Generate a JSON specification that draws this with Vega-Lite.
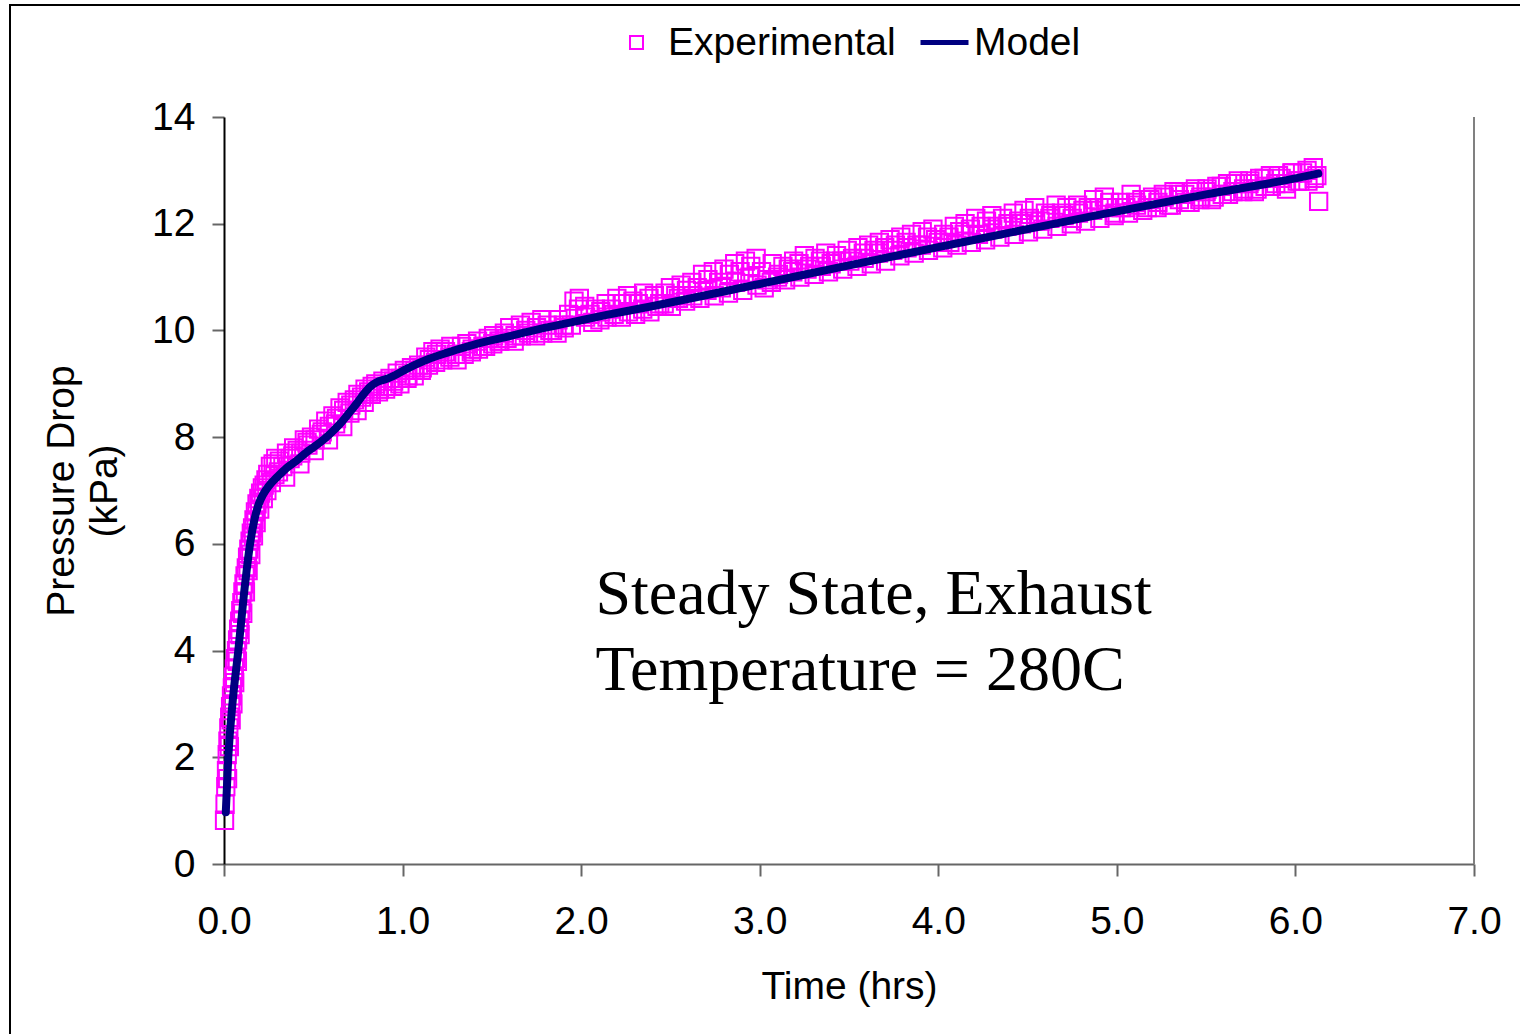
{
  "$schema": "https://vega.github.io/schema/vega-lite/v6.json",
  "autosize": {"type": "none"},
  "padding": {"left": 10, "top": 5, "right": 0, "bottom": 0},
  "width": 1530,
  "height": 1050,
  "background": "white",
  "config": {
    "view": {"stroke": "black", "strokeWidth": 2},
    "font": "Liberation Sans",
    "axis": {"grid": false, "labelFont": "Liberation Sans", "titleFont": "Liberation Sans"},
    "legend": {"labelFont": "Liberation Sans", "labelFontSize": 39, "labelColor": "black", "labelLimit": 0, "padding": 0, "title": null}
  },
  "resolve": {"scale": {"color": "independent"}},
  "datasets": {
    "exp": [
      {"t":0.003,"p":0.82},{"t":0.006,"p":1.12},{"t":0.01,"p":1.45},{"t":0.014,"p":1.75},{"t":0.018,"p":2.05},
      {"t":0.022,"p":2.3},{"t":0.027,"p":2.55},{"t":0.032,"p":2.75},{"t":0.037,"p":2.95},{"t":0.042,"p":3.15},
      {"t":0.047,"p":3.3},{"t":0.053,"p":3.5},{"t":0.058,"p":3.65},{"t":0.064,"p":3.85},{"t":0.07,"p":4.0},
      {"t":0.076,"p":4.2},{"t":0.082,"p":4.4},{"t":0.088,"p":4.55},{"t":0.094,"p":4.75},{"t":0.1,"p":4.9},
      {"t":0.106,"p":5.1},{"t":0.112,"p":5.25},{"t":0.118,"p":5.4},{"t":0.125,"p":5.55},{"t":0.132,"p":5.75},
      {"t":0.139,"p":5.9},{"t":0.146,"p":6.05},{"t":0.153,"p":6.2},{"t":0.16,"p":6.3},{"t":0.168,"p":6.45},
      {"t":0.176,"p":6.6},{"t":0.185,"p":6.75},{"t":0.195,"p":6.85},{"t":0.205,"p":6.95},{"t":0.215,"p":7.05},
      {"t":0.225,"p":7.1},{"t":0.235,"p":7.2},{"t":0.245,"p":7.3},{"t":0.26,"p":7.45},{"t":0.275,"p":7.5},
      {"t":0.02,"p":1.6},{"t":0.03,"p":2.2},{"t":0.04,"p":2.7},{"t":0.05,"p":3.0},{"t":0.06,"p":3.4},
      {"t":0.075,"p":3.8},{"t":0.09,"p":4.3},{"t":0.105,"p":4.7},{"t":0.12,"p":5.1},{"t":0.135,"p":5.5},
      {"t":0.15,"p":5.8},{"t":0.165,"p":6.15},{"t":0.18,"p":6.4},{"t":0.2,"p":6.65},{"t":0.22,"p":6.85},
      {"t":0.24,"p":7.0},{"t":0.265,"p":7.15},{"t":0.285,"p":7.3},
      {"t":0.29,"p":7.6},{"t":0.31,"p":7.55},{"t":0.33,"p":7.45},{"t":0.35,"p":7.7},{"t":0.37,"p":7.6},
      {"t":0.39,"p":7.8},{"t":0.41,"p":7.75},{"t":0.43,"p":7.7},{"t":0.45,"p":7.95},{"t":0.47,"p":7.85},
      {"t":0.49,"p":8.0},{"t":0.51,"p":7.95},{"t":0.53,"p":8.15},{"t":0.55,"p":8.1},{"t":0.57,"p":8.3},
      {"t":0.59,"p":8.2},{"t":0.61,"p":8.4},{"t":0.63,"p":8.35},{"t":0.65,"p":8.55},{"t":0.67,"p":8.5},
      {"t":0.69,"p":8.65},{"t":0.71,"p":8.6},{"t":0.73,"p":8.7},{"t":0.75,"p":8.8},{"t":0.77,"p":8.75},
      {"t":0.79,"p":8.9},{"t":0.81,"p":8.85},{"t":0.83,"p":8.95},{"t":0.85,"p":9.0},{"t":0.87,"p":8.9},
      {"t":0.89,"p":9.05},{"t":0.91,"p":8.95},{"t":0.93,"p":9.1},{"t":0.95,"p":9.05},{"t":0.97,"p":9.2},
      {"t":0.99,"p":9.1},{"t":1.01,"p":9.25},{"t":1.03,"p":9.15},{"t":1.05,"p":9.3},{"t":1.07,"p":9.25},
      {"t":1.09,"p":9.35},{"t":1.11,"p":9.3},{"t":1.13,"p":9.5},{"t":1.15,"p":9.45},{"t":1.17,"p":9.6},
      {"t":1.19,"p":9.55},{"t":1.21,"p":9.65},{"t":1.24,"p":9.6},{"t":1.27,"p":9.7},{"t":1.3,"p":9.55},
      {"t":1.33,"p":9.7},{"t":1.36,"p":9.75},{"t":1.39,"p":9.65},{"t":1.42,"p":9.8},{"t":1.45,"p":9.7},
      {"t":1.48,"p":9.85},{"t":1.51,"p":9.9},{"t":1.54,"p":9.8},{"t":1.57,"p":9.95},{"t":1.6,"p":10.05},
      {"t":1.63,"p":9.9},{"t":1.66,"p":10.1},{"t":1.69,"p":10.0},{"t":1.72,"p":10.15},{"t":1.75,"p":10.05},
      {"t":1.78,"p":10.2},{"t":1.81,"p":10.1},{"t":1.84,"p":10.0},{"t":1.87,"p":10.2},{"t":1.9,"p":10.1},
      {"t":1.93,"p":10.3},{"t":1.96,"p":10.55},{"t":1.99,"p":10.6},{"t":2.02,"p":10.45},{"t":2.05,"p":10.3},
      {"t":2.08,"p":10.4},{"t":2.11,"p":10.35},{"t":2.14,"p":10.5},{"t":2.17,"p":10.4},{"t":2.2,"p":10.6},
      {"t":2.23,"p":10.5},{"t":2.26,"p":10.65},{"t":2.29,"p":10.55},{"t":2.32,"p":10.5},{"t":2.35,"p":10.7},
      {"t":2.38,"p":10.6},{"t":2.41,"p":10.65},{"t":2.44,"p":10.5},{"t":2.47,"p":10.7},{"t":2.5,"p":10.8},
      {"t":2.53,"p":10.65},{"t":2.56,"p":10.85},{"t":2.59,"p":10.75},{"t":2.62,"p":10.9},{"t":2.65,"p":10.8},
      {"t":2.68,"p":11.05},{"t":2.71,"p":10.95},{"t":2.74,"p":11.1},{"t":2.77,"p":10.9},{"t":2.8,"p":11.15},
      {"t":2.83,"p":11.05},{"t":2.86,"p":11.25},{"t":2.89,"p":11.1},{"t":2.92,"p":11.3},{"t":2.95,"p":11.2},
      {"t":2.98,"p":11.35},{"t":3.01,"p":11.1},{"t":3.04,"p":10.95},{"t":3.07,"p":11.25},{"t":3.1,"p":11.0},
      {"t":3.13,"p":11.2},{"t":3.16,"p":11.15},{"t":3.19,"p":11.3},{"t":3.22,"p":11.25},{"t":3.25,"p":11.4},
      {"t":3.28,"p":11.2},{"t":3.31,"p":11.35},{"t":3.34,"p":11.3},{"t":3.37,"p":11.45},{"t":3.4,"p":11.25},
      {"t":3.43,"p":11.4},{"t":3.46,"p":11.3},{"t":3.49,"p":11.5},{"t":3.52,"p":11.35},{"t":3.55,"p":11.55},
      {"t":3.58,"p":11.45},{"t":3.61,"p":11.6},{"t":3.64,"p":11.5},{"t":3.67,"p":11.65},{"t":3.7,"p":11.55},
      {"t":3.73,"p":11.7},{"t":3.76,"p":11.6},{"t":3.79,"p":11.75},{"t":3.82,"p":11.65},{"t":3.85,"p":11.8},
      {"t":3.88,"p":11.6},{"t":3.91,"p":11.85},{"t":3.94,"p":11.75},{"t":3.97,"p":11.9},{"t":4.0,"p":11.65},
      {"t":4.03,"p":11.8},{"t":4.06,"p":11.75},{"t":4.09,"p":11.95},{"t":4.12,"p":11.85},{"t":4.15,"p":12.0},
      {"t":4.18,"p":11.9},{"t":4.21,"p":12.1},{"t":4.24,"p":11.95},{"t":4.27,"p":12.05},{"t":4.3,"p":12.15},
      {"t":4.33,"p":11.95},{"t":4.36,"p":12.1},{"t":4.39,"p":12.0},{"t":4.42,"p":12.2},{"t":4.45,"p":12.05},
      {"t":4.48,"p":12.25},{"t":4.51,"p":12.1},{"t":4.54,"p":12.3},{"t":4.57,"p":12.05},{"t":4.6,"p":12.2},
      {"t":4.63,"p":12.15},{"t":4.66,"p":12.35},{"t":4.69,"p":12.2},{"t":4.72,"p":12.3},{"t":4.75,"p":12.1},
      {"t":4.78,"p":12.35},{"t":4.81,"p":12.25},{"t":4.84,"p":12.3},{"t":4.87,"p":12.45},{"t":4.9,"p":12.3},
      {"t":4.93,"p":12.5},{"t":4.96,"p":12.4},{"t":4.99,"p":12.2},{"t":5.02,"p":12.4},{"t":5.05,"p":12.3},
      {"t":5.08,"p":12.55},{"t":5.11,"p":12.35},{"t":5.14,"p":12.45},{"t":5.17,"p":12.3},{"t":5.2,"p":12.5},
      {"t":5.23,"p":12.4},{"t":5.26,"p":12.55},{"t":5.29,"p":12.35},{"t":5.32,"p":12.6},{"t":5.35,"p":12.45},
      {"t":5.38,"p":12.55},{"t":5.41,"p":12.4},{"t":5.44,"p":12.65},{"t":5.47,"p":12.5},{"t":5.5,"p":12.6},
      {"t":5.53,"p":12.45},{"t":5.56,"p":12.7},{"t":5.59,"p":12.55},{"t":5.62,"p":12.75},{"t":5.65,"p":12.6},
      {"t":5.68,"p":12.8},{"t":5.71,"p":12.65},{"t":5.74,"p":12.75},{"t":5.77,"p":12.6},{"t":5.8,"p":12.85},
      {"t":5.83,"p":12.7},{"t":5.86,"p":12.9},{"t":5.89,"p":12.75},{"t":5.92,"p":12.85},{"t":5.95,"p":12.65},
      {"t":5.98,"p":12.95},{"t":6.01,"p":12.8},{"t":6.04,"p":12.95},{"t":6.07,"p":12.8},{"t":6.1,"p":13.05},
      {"t":6.12,"p":12.9},{"t":6.13,"p":12.42},
      {"t":0.305,"p":7.35},{"t":0.345,"p":7.25},{"t":0.385,"p":7.65},{"t":0.425,"p":7.5},{"t":0.465,"p":7.9},
      {"t":0.505,"p":7.75},{"t":0.545,"p":8.05},{"t":0.585,"p":7.95},{"t":0.625,"p":8.25},{"t":0.665,"p":8.2},
      {"t":0.705,"p":8.45},{"t":0.745,"p":8.5},{"t":0.785,"p":8.65},{"t":0.825,"p":8.8},{"t":0.865,"p":8.85},
      {"t":0.905,"p":8.9},{"t":0.945,"p":8.95},{"t":0.985,"p":9.0},{"t":1.025,"p":9.1},{"t":1.065,"p":9.15},
      {"t":1.105,"p":9.25},{"t":1.145,"p":9.35},{"t":1.185,"p":9.4},{"t":1.225,"p":9.45},{"t":1.265,"p":9.5},
      {"t":1.305,"p":9.45},{"t":1.345,"p":9.55},{"t":1.385,"p":9.6},{"t":1.425,"p":9.65},{"t":1.465,"p":9.7},
      {"t":1.505,"p":9.75},{"t":1.545,"p":9.8},{"t":1.585,"p":9.85},{"t":1.625,"p":9.8},{"t":1.665,"p":9.9},
      {"t":1.705,"p":9.95},{"t":1.745,"p":9.9},{"t":1.785,"p":9.95},{"t":1.825,"p":10.0},{"t":1.865,"p":9.95},
      {"t":1.905,"p":10.05},{"t":1.945,"p":10.1},{"t":1.985,"p":10.4},{"t":2.025,"p":10.25},{"t":2.065,"p":10.15},
      {"t":2.105,"p":10.2},{"t":2.145,"p":10.25},{"t":2.185,"p":10.3},{"t":2.225,"p":10.25},{"t":2.265,"p":10.35},
      {"t":2.305,"p":10.3},{"t":2.345,"p":10.4},{"t":2.385,"p":10.35},{"t":2.425,"p":10.45},{"t":2.465,"p":10.5},
      {"t":2.505,"p":10.45},{"t":2.545,"p":10.6},{"t":2.585,"p":10.55},{"t":2.625,"p":10.65},{"t":2.665,"p":10.6},
      {"t":2.705,"p":10.75},{"t":2.745,"p":10.65},{"t":2.785,"p":10.8},{"t":2.825,"p":10.7},{"t":2.865,"p":10.9},
      {"t":2.905,"p":10.75},{"t":2.945,"p":11.0},{"t":2.985,"p":10.85},{"t":3.025,"p":10.8},{"t":3.065,"p":10.9},
      {"t":3.105,"p":11.05},{"t":3.145,"p":10.95},{"t":3.185,"p":11.1},{"t":3.225,"p":11.0},{"t":3.265,"p":11.15},
      {"t":3.305,"p":11.05},{"t":3.345,"p":11.2},{"t":3.385,"p":11.1},{"t":3.425,"p":11.3},{"t":3.465,"p":11.15},
      {"t":3.505,"p":11.3},{"t":3.545,"p":11.2},{"t":3.585,"p":11.35},{"t":3.625,"p":11.25},{"t":3.665,"p":11.45},
      {"t":3.705,"p":11.3},{"t":3.745,"p":11.5},{"t":3.785,"p":11.4},{"t":3.825,"p":11.55},{"t":3.865,"p":11.45},
      {"t":3.905,"p":11.6},{"t":3.945,"p":11.5},{"t":3.985,"p":11.7},{"t":4.025,"p":11.55},{"t":4.065,"p":11.65},
      {"t":4.105,"p":11.6},{"t":4.145,"p":11.8},{"t":4.185,"p":11.65},{"t":4.225,"p":11.8},{"t":4.265,"p":11.7},
      {"t":4.305,"p":11.9},{"t":4.345,"p":11.75},{"t":4.385,"p":11.95},{"t":4.425,"p":11.8},{"t":4.465,"p":12.0},
      {"t":4.505,"p":11.85},{"t":4.545,"p":12.05},{"t":4.585,"p":11.9},{"t":4.625,"p":12.1},{"t":4.665,"p":11.95},
      {"t":4.705,"p":12.15},{"t":4.745,"p":12.0},{"t":4.785,"p":12.2},{"t":4.825,"p":12.05},{"t":4.865,"p":12.25},
      {"t":4.905,"p":12.1},{"t":4.945,"p":12.3},{"t":4.985,"p":12.15},{"t":5.025,"p":12.3},{"t":5.065,"p":12.2},
      {"t":5.105,"p":12.4},{"t":5.145,"p":12.25},{"t":5.185,"p":12.45},{"t":5.225,"p":12.3},{"t":5.265,"p":12.5},
      {"t":5.305,"p":12.35},{"t":5.345,"p":12.55},{"t":5.385,"p":12.4},{"t":5.425,"p":12.6},{"t":5.465,"p":12.45},
      {"t":5.505,"p":12.65},{"t":5.545,"p":12.5},{"t":5.585,"p":12.7},{"t":5.625,"p":12.55},{"t":5.665,"p":12.75},
      {"t":5.705,"p":12.6},{"t":5.745,"p":12.8},{"t":5.785,"p":12.65},{"t":5.825,"p":12.85},{"t":5.865,"p":12.7},
      {"t":5.905,"p":12.9},{"t":5.945,"p":12.75},{"t":5.985,"p":12.95},{"t":6.025,"p":12.8},{"t":6.065,"p":13.0},
      {"t":6.105,"p":12.85}
    ],
    "model": [
      {"t":0.01,"p":0.97},{"t":0.024,"p":2.0},{"t":0.05,"p":3.1},{"t":0.08,"p":4.0},{"t":0.11,"p":5.0},
      {"t":0.146,"p":6.0},{"t":0.17,"p":6.45},{"t":0.195,"p":6.75},{"t":0.22,"p":6.93},{"t":0.25,"p":7.08},
      {"t":0.3,"p":7.26},{"t":0.35,"p":7.42},{"t":0.407,"p":7.56},{"t":0.463,"p":7.72},{"t":0.538,"p":7.9},
      {"t":0.6,"p":8.08},{"t":0.65,"p":8.25},{"t":0.7,"p":8.45},{"t":0.743,"p":8.63},{"t":0.78,"p":8.8},
      {"t":0.82,"p":8.95},{"t":0.855,"p":9.03},{"t":0.9,"p":9.08},{"t":0.95,"p":9.15},{"t":1.023,"p":9.28},
      {"t":1.135,"p":9.45},{"t":1.247,"p":9.58},{"t":1.396,"p":9.73},{"t":1.583,"p":9.88},{"t":1.77,"p":10.03},
      {"t":1.956,"p":10.16},{"t":2.143,"p":10.29},{"t":2.33,"p":10.41},{"t":3.0,"p":10.87},{"t":3.5,"p":11.22},
      {"t":4.0,"p":11.56},{"t":4.5,"p":11.9},{"t":4.906,"p":12.17},{"t":5.5,"p":12.55},{"t":6.0,"p":12.85},
      {"t":6.128,"p":12.94}
    ]
  },
  "layer": [
    {
      "data": {"name": "exp"},
      "mark": {"type": "point", "shape": "square", "filled": false, "strokeWidth": 2, "size": 300, "opacity": 1},
      "encoding": {
        "x": {
          "field": "t", "type": "quantitative",
          "scale": {"domain": [0, 7], "range": [214, 1464], "nice": false, "zero": false},
          "axis": {
            "orient": "bottom", "offset": -191, "values": [0,1,2,3,4,5,6,7], "format": ".1f",
            "labelFontSize": 39, "labelColor": "black", "labelFlush": false, "labelOverlap": false, "labelBound": false,
            "labelPadding": 26, "tickSize": 12, "tickWidth": 2, "tickColor": "#666666",
            "domainColor": "#666666", "domainWidth": 2,
            "title": "Time (hrs)", "titleFontSize": 39, "titleFontWeight": "normal", "titleColor": "black", "titlePadding": 26
          }
        },
        "y": {
          "field": "p", "type": "quantitative",
          "scale": {"domain": [0, 14], "range": [859, 112], "nice": false, "zero": false},
          "axis": {
            "orient": "left", "offset": -214, "values": [0,2,4,6,8,10,12,14], "format": "d",
            "labelFontSize": 39, "labelColor": "black", "labelOverlap": false, "labelBound": false,
            "labelPadding": 17, "tickSize": 12, "tickWidth": 2, "tickColor": "#666666",
            "domainColor": "black", "domainWidth": 2,
            "title": ["Pressure Drop", "(kPa)"], "titleFontSize": 39, "titleFontWeight": "normal", "titleColor": "black",
            "titleLineHeight": 43, "titlePadding": 27
          }
        },
        "color": {
          "datum": "Experimental",
          "scale": {"domain": ["Experimental"], "range": ["#FF00FF"]},
          "legend": {
            "orient": "none", "legendX": 607, "legendY": 18,
            "symbolType": "square", "symbolSize": 169, "symbolStrokeWidth": 2,
            "symbolFillColor": "transparent", "labelOffset": 12
          }
        }
      }
    },
    {
      "data": {"name": "model"},
      "mark": {"type": "line", "strokeWidth": 8, "strokeCap": "round", "strokeJoin": "round", "interpolate": "monotone"},
      "encoding": {
        "x": {"field": "t", "type": "quantitative"},
        "y": {"field": "p", "type": "quantitative"},
        "color": {
          "datum": "Model",
          "scale": {"domain": ["Model"], "range": ["#000080"]},
          "legend": {
            "orient": "none", "legendX": 908, "legendY": 11,
            "symbolType": "stroke", "symbolSize": 2304, "symbolStrokeWidth": 5, "labelOffset": 3
          }
        }
      }
    },
    {
      "data": {"values": [{}]},
      "mark": {"type": "rule", "color": "#808080", "strokeWidth": 2},
      "encoding": {"x": {"datum": 7}, "y": {"datum": 0}, "y2": {"datum": 14}}
    },
    {
      "data": {"values": [{}]},
      "mark": {"type": "text", "font": "Liberation Serif", "fontSize": 64, "lineHeight": 76, "align": "left", "baseline": "alphabetic", "color": "black"},
      "encoding": {
        "x": {"datum": 2.08},
        "y": {"datum": 4.685},
        "text": {"value": ["Steady State, Exhaust", "Temperature = 280C"]}
      }
    }
  ]
}
